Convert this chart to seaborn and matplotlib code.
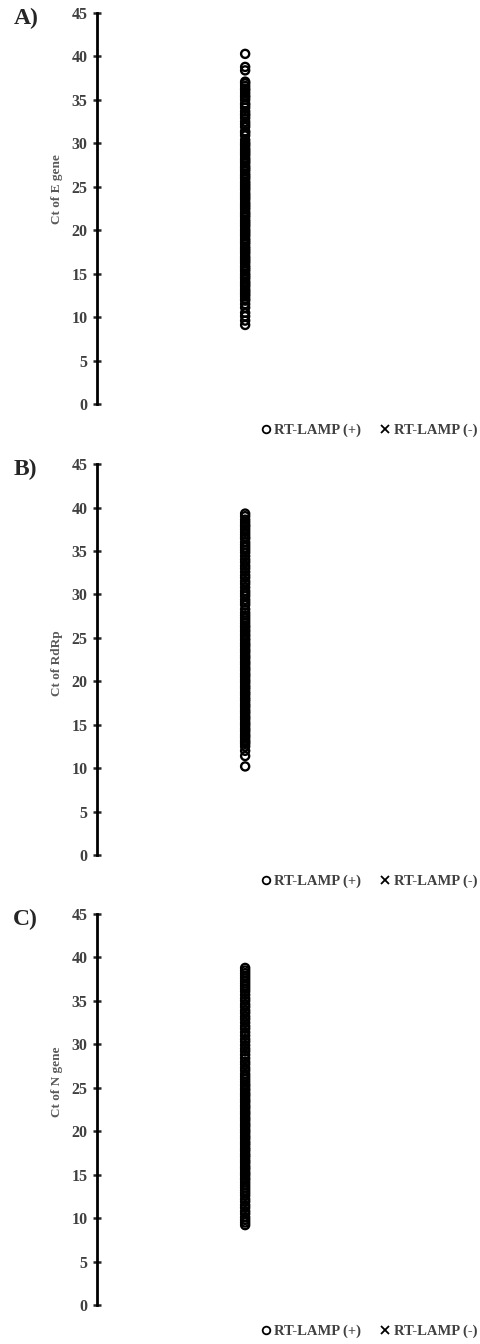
import pandas as pd
import seaborn as sns
import matplotlib.pyplot as plt
from matplotlib.lines import Line2D

# Ct values of RT-LAMP positive samples
ct_e_gene = [40.3, 38.8, 38.4, 37.1, 36.9, 36.6, 36.3, 36.1, 35.8, 35.5, 35.3, 35.0, 34.6, 34.4,
             34.1, 33.7, 33.4, 33.2, 32.9, 32.5, 32.2, 31.9, 31.4, 31.2, 30.9, 30.4, 30.1, 29.9,
             29.7, 29.4, 29.2, 29.0, 28.8, 28.6, 28.3, 28.1, 27.9, 27.7, 27.4, 27.2, 27.0, 26.8,
             26.5, 26.3, 26.1, 25.9, 25.6, 25.4, 25.2, 25.0, 24.8, 24.6, 24.3, 24.1, 23.9, 23.7,
             23.5, 23.2, 23.0, 22.8, 22.6, 22.4, 22.1, 21.9, 21.7, 21.5, 21.2, 21.0, 20.8, 20.6,
             20.4, 20.1, 19.9, 19.7, 19.5, 19.3, 19.0, 18.8, 18.6, 18.4, 18.1, 17.9, 17.7, 17.5,
             17.3, 17.0, 16.8, 16.6, 16.4, 16.2, 15.9, 15.7, 15.5, 15.3, 15.0, 14.8, 14.6, 14.4,
             14.1, 13.9, 13.7, 13.5, 13.2, 13.0, 12.8, 12.6, 12.4, 12.1, 11.9, 11.5, 11.1, 10.5,
             10.1, 9.6, 9.1]
ct_rdrp = [39.3, 39.0, 38.6, 38.3, 38.0, 37.8, 37.5, 37.2, 36.9, 36.6, 36.4, 36.0, 35.7, 35.4,
           35.1, 34.8, 34.4, 34.0, 33.7, 33.3, 33.0, 32.6, 32.2, 31.9, 31.5, 31.2, 30.8, 30.4,
           30.1, 29.8, 29.4, 29.1, 28.8, 28.3, 27.9, 27.6, 27.3, 27.0, 26.7, 26.4, 26.2, 25.9,
           25.7, 25.4, 25.2, 24.9, 24.7, 24.4, 24.2, 24.0, 23.7, 23.5, 23.3, 23.0, 22.8, 22.6,
           22.3, 22.1, 21.9, 21.6, 21.4, 21.2, 20.9, 20.7, 20.5, 20.2, 20.0, 19.8, 19.5, 19.3,
           19.1, 18.8, 18.6, 18.4, 18.1, 17.9, 17.7, 17.4, 17.2, 17.0, 16.7, 16.5, 16.3, 16.0,
           15.8, 15.6, 15.3, 15.1, 14.9, 14.6, 14.4, 14.2, 13.9, 13.7, 13.5, 13.2, 13.0, 12.8,
           12.5, 12.0, 11.4, 10.2]
ct_n_gene = [38.8, 38.5, 38.2, 37.9, 37.6, 37.3, 37.0, 36.7, 36.4, 36.1, 35.7, 35.3, 35.0, 34.6,
             34.3, 33.9, 33.6, 33.2, 32.9, 32.5, 32.1, 31.8, 31.4, 31.0, 30.6, 30.3, 29.9, 29.5,
             29.2, 28.8, 28.4, 28.0, 27.7, 27.3, 27.0, 26.6, 26.3, 26.0, 25.7, 25.4, 25.2, 24.9,
             24.7, 24.4, 24.2, 24.0, 23.7, 23.5, 23.3, 23.0, 22.8, 22.6, 22.3, 22.1, 21.9, 21.6,
             21.4, 21.2, 20.9, 20.7, 20.5, 20.2, 20.0, 19.8, 19.5, 19.3, 19.1, 18.8, 18.6, 18.4,
             18.1, 17.9, 17.7, 17.4, 17.2, 17.0, 16.7, 16.5, 16.3, 16.0, 15.8, 15.6, 15.3, 15.1,
             14.9, 14.6, 14.4, 14.1, 13.8, 13.5, 13.2, 12.9, 12.6, 12.2, 11.9, 11.5, 11.2, 10.8,
             10.5, 10.1, 9.8, 9.5, 9.2]

panel_tags = ["A)", "B)", "C)"]
y_labels = ["Ct of E gene", "Ct of RdRp", "Ct of N gene"]
legend_labels = ["RT-LAMP (+)", "RT-LAMP (-)"]
y_ticks = [0, 5, 10, 15, 20, 25, 30, 35, 40, 45]

sns.set_style("white")
plt.rcParams["font.family"] = ["Liberation Serif", "DejaVu Serif"]
plt.rcParams["font.weight"] = "bold"

fig = plt.figure(figsize=(4.8, 13.44), dpi=100)

# axes boxes (left, bottom, width, height) in figure fractions
boxes = [
    [0.203, 0.6994, 0.797, 0.2909],
    [0.203, 0.3638, 0.797, 0.2909],
    [0.203, 0.0290, 0.797, 0.2909],
]
label_y = [0.55, 0.49, 0.57]

for ct, tag, ylab, box, ly in zip([ct_e_gene, ct_rdrp, ct_n_gene], panel_tags, y_labels, boxes, label_y):
    ax = fig.add_axes(box)
    df = pd.DataFrame({"sample": 1, "ct": ct})
    sns.scatterplot(data=df, x="sample", y="ct", ax=ax, marker="o", s=34,
                    facecolor="none", edgecolor="black", linewidth=1.7)
    ax.set_xlim(0, 2.59)
    ax.set_ylim(0, 45)
    ax.set_yticks(y_ticks)
    ax.set_xticks([])
    ax.set_xlabel("")
    ax.set_ylabel(ylab, fontsize=9.5, fontweight="bold", color="#595959")
    ax.yaxis.set_label_coords(-0.09, ly)
    for side in ["top", "right", "bottom"]:
        ax.spines[side].set_visible(False)
    ax.spines["left"].set_linewidth(2)
    ax.spines["left"].set_color("black")
    ax.tick_params(axis="y", direction="inout", length=6, width=1.8, left=True,
                   labelsize=11.5, labelcolor="#404040", pad=4)
    for lab in ax.get_yticklabels():
        lab.set_fontweight("bold")

    ax.text(-0.22, 0.985, tag, transform=ax.transAxes, fontsize=17, fontweight="bold",
            ha="left", va="center")

    handles = [
        Line2D([], [], marker="o", linestyle="", markerfacecolor="none",
               markeredgecolor="black", markersize=5.5, markeredgewidth=1.3),
        Line2D([], [], marker="x", linestyle="", color="black",
               markersize=5.5, markeredgewidth=1.3),
    ]
    ax.legend(handles, legend_labels, loc="center right", bbox_to_anchor=(1.0, -0.067),
              ncol=2, frameon=False, handletextpad=0.1, borderpad=0.1, borderaxespad=0.1,
              columnspacing=1.1, handlelength=1.0, prop={"weight": "bold", "size": 10.5})
    leg = ax.get_legend()
    for t in leg.get_texts():
        t.set_color("#404040")

fig.savefig("out.png", dpi=100)
